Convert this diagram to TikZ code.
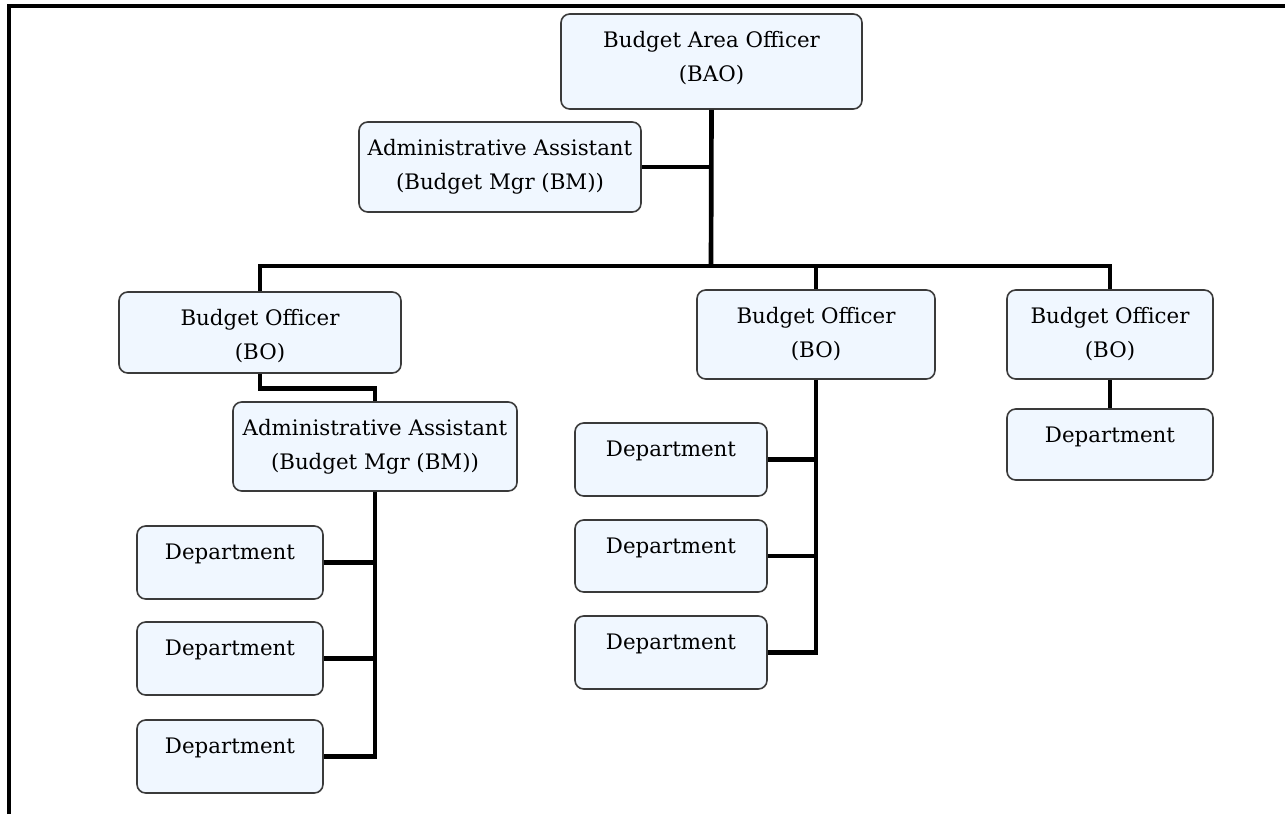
\documentclass[tikz,border=0pt]{standalone}
\usepackage{fontspec}
\setmainfont{DejaVu Serif}
\usetikzlibrary{fit}
\definecolor{boxfill}{HTML}{F0F7FF}
\definecolor{boxline}{HTML}{3A3A3A}
\newcommand\orgbox[6]{%
  \node[obox, fit={(#2,#3) (#4,#5)}] (#1) {};
  \node[txt] (#1-t) at ([yshift=-13.5pt]#1.north) {#6};}
\begin{document}
\begin{tikzpicture}[x=0.75pt,y=-0.75pt,
  obox/.style={draw=boxline, line width=1.2pt, fill=boxfill, rounded corners=6.5pt, inner sep=0pt},
  txt/.style={anchor=north, align=center, inner sep=0pt, font=\fontsize{16}{25}\selectfont},
  conn/.style={line width=3.5pt, line join=miter},
  frameline/.style={line width=2.6pt}]
\useasboundingbox (0,0) rectangle (1285,814);
\draw[frameline] (9,814) -- (9,6) -- (1285,6);

\orgbox{bao}{561}{14}{862}{109}{Budget Area Officer\\(BAO)}
\orgbox{aa1}{359}{122}{641}{212}{Administrative Assistant\\(Budget Mgr (BM))}
\orgbox{bo1}{119}{292}{401}{373}{Budget Officer\\(BO)}
\orgbox{aa2}{233}{402}{517}{491}{Administrative Assistant\\(Budget Mgr (BM))}
\orgbox{d1a}{137}{526}{323}{599}{Department}
\orgbox{d1b}{137}{622}{323}{695}{Department}
\orgbox{d1c}{137}{720}{323}{793}{Department}
\orgbox{bo2}{697}{290}{935}{379}{Budget Officer\\(BO)}
\orgbox{d2a}{575}{423}{767}{496}{Department}
\orgbox{d2b}{575}{520}{767}{592}{Department}
\orgbox{d2c}{575}{616}{767}{689}{Department}
\orgbox{bo3}{1007}{290}{1213}{379}{Budget Officer\\(BO)}
\orgbox{d3}{1007}{409}{1213}{480}{Department}

\coordinate (j0) at (711,266);
\draw[conn] (bao.south) -- (j0);
\draw[conn] (aa1.east) -- (aa1.east -| j0);
\draw[conn] (bo1.north) |- (j0) -| (bo3.north);
\draw[conn] (bo2.north) -- (bo2.north |- j0);
\draw[conn] (bo1.south) -- ++(0,15) -| (aa2.north);
\draw[conn] (aa2.south) |- (d1c.east);
\draw[conn] (d1a.east) -- (d1a.east -| aa2.south);
\draw[conn] (d1b.east) -- (d1b.east -| aa2.south);
\draw[conn] (bo2.south) |- (d2c.east);
\draw[conn] (d2a.east) -- (d2a.east -| bo2.south);
\draw[conn] (d2b.east) -- (d2b.east -| bo2.south);
\draw[conn] (bo3.south) -- (d3.north);
\end{tikzpicture}
\end{document}
